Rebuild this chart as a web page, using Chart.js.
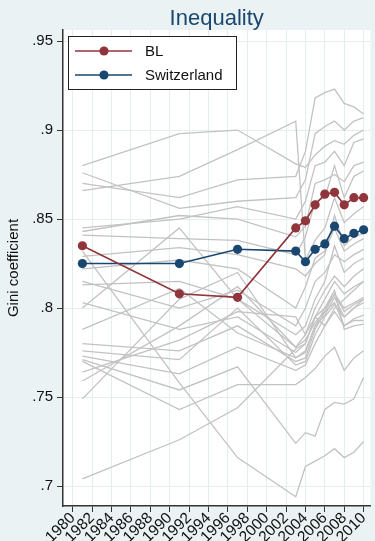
<!DOCTYPE html>
<html><head><meta charset="utf-8">
<script src="https://cdn.jsdelivr.net/npm/chart.js@4/dist/chart.umd.min.js"></script>
<style>html,body{margin:0;padding:0;background:#eaf2f3;}#wrap{width:375px;height:541px;position:relative}</style>
</head><body><div id="wrap"><canvas id="c" width="375" height="541"></canvas></div>
<script>
const years = [1981, 1991, 1997, 2003, 2004, 2005, 2006, 2007, 2008, 2009, 2010];
const blValues = [0.835, 0.808, 0.806, 0.845, 0.849, 0.858, 0.864, 0.865, 0.858, 0.862, 0.862];
const switzerlandValues = [0.825, 0.825, 0.833, 0.832, 0.826, 0.833, 0.836, 0.846, 0.839, 0.842, 0.844];
const otherCantons = [
  [0.880, 0.898, 0.900, 0.881, 0.879, 0.886, 0.891, 0.894, 0.892, 0.897, 0.900],
  [0.866, 0.874, 0.889, 0.905, 0.827, 0.838, 0.845, 0.862, 0.848, 0.853, 0.857],
  [0.870, 0.862, 0.872, 0.874, 0.888, 0.918, 0.921, 0.923, 0.915, 0.913, 0.909],
  [0.876, 0.856, 0.860, 0.862, 0.872, 0.898, 0.902, 0.905, 0.900, 0.905, 0.907],
  [0.845, 0.850, 0.857, 0.850, 0.860, 0.880, 0.882, 0.888, 0.880, 0.893, 0.895],
  [0.843, 0.852, 0.850, 0.840, 0.846, 0.870, 0.872, 0.875, 0.871, 0.880, 0.882],
  [0.841, 0.839, 0.838, 0.830, 0.840, 0.860, 0.862, 0.880, 0.862, 0.874, 0.877],
  [0.832, 0.758, 0.716, 0.694, 0.711, 0.714, 0.717, 0.721, 0.716, 0.719, 0.725],
  [0.829, 0.834, 0.830, 0.822, 0.818, 0.825, 0.830, 0.852, 0.835, 0.840, 0.842],
  [0.822, 0.827, 0.822, 0.800, 0.812, 0.828, 0.832, 0.845, 0.832, 0.836, 0.839],
  [0.815, 0.800, 0.810, 0.790, 0.800, 0.815, 0.820, 0.830, 0.826, 0.830, 0.833],
  [0.813, 0.815, 0.805, 0.785, 0.790, 0.805, 0.815, 0.835, 0.820, 0.825, 0.828],
  [0.800, 0.845, 0.805, 0.778, 0.785, 0.800, 0.810, 0.818, 0.812, 0.818, 0.822],
  [0.803, 0.788, 0.795, 0.775, 0.780, 0.795, 0.805, 0.815, 0.808, 0.812, 0.815],
  [0.788, 0.811, 0.786, 0.772, 0.775, 0.790, 0.800, 0.808, 0.800, 0.803, 0.806],
  [0.780, 0.776, 0.790, 0.770, 0.772, 0.788, 0.798, 0.808, 0.798, 0.802, 0.805],
  [0.776, 0.771, 0.800, 0.768, 0.770, 0.785, 0.795, 0.802, 0.795, 0.800, 0.803],
  [0.773, 0.763, 0.778, 0.765, 0.768, 0.780, 0.790, 0.798, 0.790, 0.794, 0.796],
  [0.771, 0.754, 0.767, 0.724, 0.730, 0.728, 0.743, 0.747, 0.746, 0.749, 0.761],
  [0.770, 0.743, 0.757, 0.757, 0.761, 0.766, 0.773, 0.778, 0.765, 0.772, 0.776],
  [0.764, 0.782, 0.798, 0.795, 0.785, 0.795, 0.800, 0.810, 0.788, 0.790, 0.791],
  [0.759, 0.790, 0.812, 0.778, 0.782, 0.792, 0.798, 0.803, 0.790, 0.793, 0.793],
  [0.749, 0.805, 0.820, 0.772, 0.776, 0.790, 0.796, 0.806, 0.795, 0.800, 0.805],
  [0.704, 0.726, 0.744, 0.777, 0.780, 0.795, 0.790, 0.800, 0.805, 0.810, 0.815]
];
const xTicks = [1980, 1982, 1984, 1986, 1988, 1990, 1992, 1994, 1996, 1998, 2000, 2002, 2004, 2006, 2008, 2010];
const yTicks = [0.7, 0.75, 0.8, 0.85, 0.9, 0.95];
const yTickLabels = ['.7', '.75', '.8', '.85', '.9', '.95'];
const seriesNames = ['BL', 'Switzerland'];
const titleText = 'Inequality';
const yAxisTitle = 'Gini coefficient';

const FONT = '"Liberation Sans", Arial, Helvetica, sans-serif';
const toPts = vals => vals.map((v, i) => ({x: years[i], y: v}));

const datasets = [
  {label: seriesNames[0], data: toPts(blValues), borderColor: '#90353b', backgroundColor: '#90353b',
   borderWidth: 1.6, pointRadius: 4.6, pointBackgroundColor: '#90353b', pointBorderColor: '#90353b', pointBorderWidth: 0, tension: 0},
  {label: seriesNames[1], data: toPts(switzerlandValues), borderColor: '#1a476f', backgroundColor: '#1a476f',
   borderWidth: 1.6, pointRadius: 4.6, pointBackgroundColor: '#1a476f', pointBorderColor: '#1a476f', pointBorderWidth: 0, tension: 0}
];
otherCantons.forEach((vals, k) => datasets.push({
  label: 'canton' + k, data: toPts(vals), borderColor: '#c2c2c2', borderWidth: 1.3, pointRadius: 0, tension: 0
}));

const bgPlugin = {
  id: 'bg',
  beforeDraw(chart) {
    const {ctx, chartArea: a} = chart;
    ctx.save();
    ctx.fillStyle = '#eaf2f3';
    ctx.fillRect(0, 0, chart.width, chart.height);
    ctx.fillStyle = '#ffffff';
    ctx.fillRect(a.left, a.top, a.right - a.left, a.bottom - a.top);
    ctx.restore();
  }
};
const titlePlugin = {
  id: 'ttl',
  afterDraw(chart) {
    const {ctx, chartArea: a} = chart;
    ctx.save();
    ctx.font = '22px ' + FONT;
    ctx.fillStyle = '#1a476f';
    ctx.textAlign = 'center';
    ctx.textBaseline = 'alphabetic';
    ctx.fillText(titleText, (a.left + a.right) / 2, 25);
    ctx.restore();
  }
};
const legendPlugin = {
  id: 'lg',
  afterDraw(chart) {
    const {ctx, chartArea: a} = chart;
    const x0 = a.left + 5, y0 = a.top + 6, w = 168, h = 53;
    ctx.save();
    ctx.fillStyle = '#ffffff';
    ctx.fillRect(x0, y0, w, h);
    ctx.strokeStyle = '#222';
    ctx.lineWidth = 1;
    ctx.strokeRect(x0 + 0.5, y0 + 0.5, w, h);
    [0, 1].forEach(i => {
      const ds = chart.data.datasets[i];
      const y = y0 + 15 + i * 24;
      ctx.strokeStyle = ds.borderColor;
      ctx.lineWidth = 1.6;
      ctx.beginPath(); ctx.moveTo(x0 + 7, y); ctx.lineTo(x0 + 64, y); ctx.stroke();
      ctx.fillStyle = ds.borderColor;
      ctx.beginPath(); ctx.arc(x0 + 36, y, 4.6, 0, Math.PI * 2); ctx.fill();
      ctx.fillStyle = '#111';
      ctx.font = '15px ' + FONT;
      ctx.textBaseline = 'middle';
      ctx.textAlign = 'left';
      ctx.fillText(ds.label, x0 + 77, y + 1);
    });
    ctx.restore();
  }
};

new Chart(document.getElementById('c'), {
  type: 'line',
  data: {datasets},
  options: {
    responsive: false, animation: false, devicePixelRatio: 1,
    layout: {padding: {top: 30, right: 0, left: 0, bottom: 0}},
    plugins: {legend: {display: false}, title: {display: false}, tooltip: {enabled: false}},
    scales: {
      x: {
        type: 'linear', min: 1979, max: 2010.7,
        afterBuildTicks(s) { s.ticks = xTicks.map(v => ({value: v})); },
        afterFit(s) { s.height = 35; },
        grid: {color: '#e4eef0', lineWidth: 1, drawTicks: true, tickLength: 6, tickColor: '#333'},
        border: {color: '#333', width: 1.5},
        ticks: {autoSkip: false, maxRotation: 45, minRotation: 45, padding: -3,
                font: {size: 15.5, family: FONT}, color: '#111', callback: v => String(v)}
      },
      y: {
        type: 'linear', min: 0.6888, max: 0.9562,
        afterBuildTicks(s) { s.ticks = yTicks.map(v => ({value: v})); },
        afterFit(s) { s.width = 63; },
        grid: {color: '#e4eef0', lineWidth: 1, drawTicks: true, tickLength: 6, tickColor: '#333'},
        border: {color: '#333', width: 1.5},
        ticks: {padding: 4, font: {size: 15, family: FONT}, color: '#111',
                callback: v => { const i = yTicks.findIndex(t => Math.abs(t - v) < 1e-9); return i >= 0 ? yTickLabels[i] : ''; }},
        title: {display: true, text: yAxisTitle, font: {size: 15, family: FONT}, color: '#111', padding: {top: 5, bottom: 0}}
      }
    }
  },
  plugins: [bgPlugin, titlePlugin, legendPlugin]
});
</script></body></html>
